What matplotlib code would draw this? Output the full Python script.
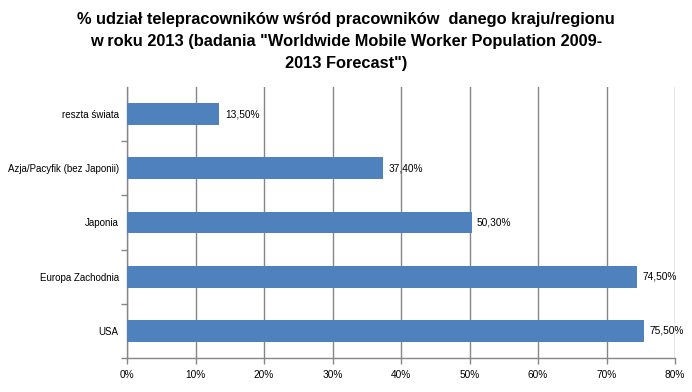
import matplotlib
matplotlib.use('Agg')
import matplotlib.pyplot as plt

kategorie = ['USA', 'Europa Zachodnia', 'Japonia', 'Azja/Pacyfik (bez Japonii)', 'reszta świata']
wartosci = [75.5, 74.5, 50.3, 37.4, 13.5]
x_ticki = [0, 10, 20, 30, 40, 50, 60, 70, 80]

plt.rcParams['font.family'] = ['Liberation Sans', 'DejaVu Sans']

fig = plt.figure(figsize=(6.92, 3.92), dpi=100)
ax = fig.add_axes([127 / 692, 1 - 358 / 392, (675 - 127) / 692, (358 - 87) / 392])

pos = list(range(len(kategorie)))
ax.barh(pos, wartosci, height=0.4, color='#4F81BD', zorder=3)
for p, v in zip(pos, wartosci):
    ax.text(v + 0.8, p, ('%.2f' % v).replace('.', ',') + '%', va='center', ha='left',
            fontsize=7.3, color='black')

ax.set_xlim(0, 80)
ax.set_ylim(-0.5, len(kategorie) - 0.5)
ax.set_xticks(x_ticki)
ax.set_xticklabels(['%d%%' % t for t in x_ticki], fontsize=7.3)
ax.set_yticks(pos)
ax.set_yticklabels(kategorie, fontsize=7)
ax.set_yticks([p + 0.5 for p in pos[:-1]] + [-0.5], minor=True)
ax.tick_params(axis='y', which='major', length=0, pad=6)
ax.tick_params(axis='y', which='minor', length=4, color='#868686', width=1)
ax.tick_params(axis='x', length=4, color='#868686', width=1, pad=5)
ax.xaxis.grid(True, color='#868686', linewidth=1, zorder=0)
for s in ['top', 'right']:
    ax.spines[s].set_visible(False)
for s in ['left', 'bottom']:
    ax.spines[s].set_color('#868686')
    ax.spines[s].set_linewidth(1)

fig.text(0.5, 0.97, '% udział telepracowników wśród pracowników  danego kraju/regionu\n'
         'w roku 2013 (badania "Worldwide Mobile Worker Population 2009-\n'
         '2013 Forecast")', ha='center', va='top', fontsize=11.8, fontweight='bold',
         linespacing=1.6)

fig.savefig('out.png', dpi=100)
